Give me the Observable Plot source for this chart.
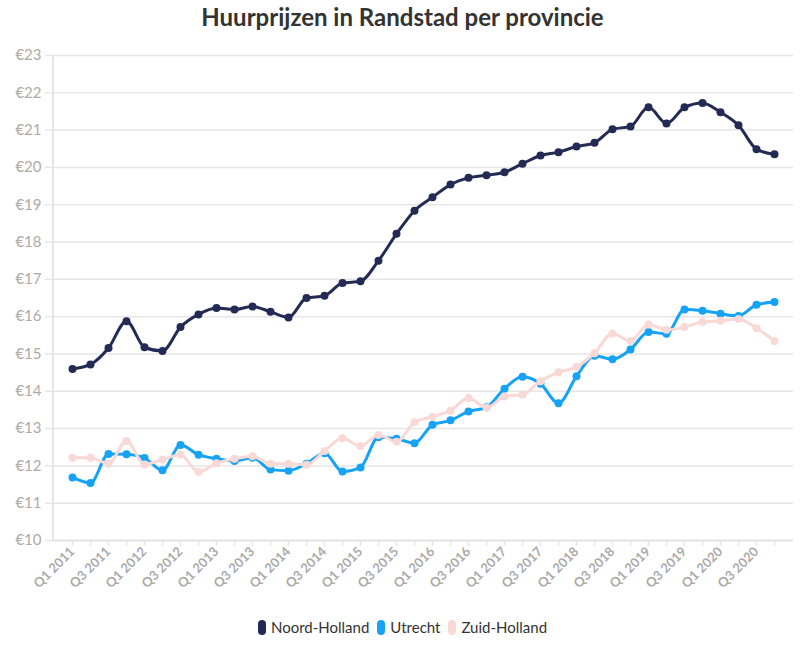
<!DOCTYPE html>
<html>
<head>
<meta charset="utf-8">
<script src="https://cdn.jsdelivr.net/npm/d3@7"></script>
<script src="https://cdn.jsdelivr.net/npm/@observablehq/plot@0.6"></script>
<style>
  body { margin: 0; background: #fff; font-family: Lato, "Noto Sans", sans-serif; }
  #title { height: 35px; line-height: 33px; text-align: center; font-size: 24px; font-weight: bold; color: #333; }
  #legend { display: flex; justify-content: center; align-items: center; gap: 8px; font-size: 15px; color: #333; margin-top: 13px; }
  .item { display: flex; align-items: center; gap: 5px; }
  .sw { width: 8px; height: 15px; border-radius: 4px; display: inline-block; }
</style>
</head>
<body>
<div id="title">Huurprijzen in Randstad per provincie</div>
<div id="chart"></div>
<div id="legend"></div>
<script>
const quarters = [
  "Q1 2011","Q2 2011","Q3 2011","Q4 2011",
  "Q1 2012","Q2 2012","Q3 2012","Q4 2012",
  "Q1 2013","Q2 2013","Q3 2013","Q4 2013",
  "Q1 2014","Q2 2014","Q3 2014","Q4 2014",
  "Q1 2015","Q2 2015","Q3 2015","Q4 2015",
  "Q1 2016","Q2 2016","Q3 2016","Q4 2016",
  "Q1 2017","Q2 2017","Q3 2017","Q4 2017",
  "Q1 2018","Q2 2018","Q3 2018","Q4 2018",
  "Q1 2019","Q2 2019","Q3 2019","Q4 2019",
  "Q1 2020","Q2 2020","Q3 2020","Q4 2020"
];
const noordHolland = [
  14.60, 14.72, 15.16, 15.88, 15.18, 15.08, 15.72, 16.06,
  16.23, 16.19, 16.27, 16.13, 15.98, 16.50, 16.56, 16.90,
  16.95, 17.50, 18.22, 18.84, 19.20, 19.54, 19.72, 19.79,
  19.87, 20.10, 20.32, 20.41, 20.56, 20.66, 21.02, 21.10,
  21.61, 21.18, 21.61, 21.73, 21.48, 21.13, 20.49, 20.35
];
const utrecht = [
  11.69, 11.54, 12.32, 12.31, 12.21, 11.88, 12.56, 12.30,
  12.19, 12.13, 12.22, 11.90, 11.87, 12.06, 12.34, 11.85,
  11.96, 12.77, 12.73, 12.61, 13.10, 13.22, 13.46, 13.57,
  14.07, 14.39, 14.20, 13.68, 14.40, 14.95, 14.86, 15.12,
  15.59, 15.54, 16.19, 16.16, 16.08, 16.02, 16.32, 16.39
];
const zuidHolland = [
  12.22, 12.22, 12.06, 12.67, 12.04, 12.17, 12.30, 11.84,
  12.07, 12.19, 12.26, 12.06, 12.06, 12.03, 12.40, 12.74,
  12.53, 12.83, 12.65, 13.17, 13.32, 13.48, 13.82, 13.56,
  13.86, 13.91, 14.27, 14.51, 14.65, 15.02, 15.55, 15.35,
  15.79, 15.65, 15.72, 15.86, 15.89, 15.94, 15.69, 15.35
];
const seriesNames = ["Noord-Holland", "Utrecht", "Zuid-Holland"];
const seriesColors = ["#232b55", "#17a3f5", "#f9d9d6"];
const yTicks = [10, 11, 12, 13, 14, 15, 16, 17, 18, 19, 20, 21, 22, 23];

const allSeries = [noordHolland, utrecht, zuidHolland];
const data = [];
allSeries.forEach((vals, s) => {
  vals.forEach((v, i) => data.push({ q: quarters[i], v, s: seriesNames[s] }));
});

const marks = [
  Plot.gridY(yTicks, { stroke: "#e6e6e6", strokeOpacity: 1, strokeWidth: 1.5 }),
  Plot.ruleY([10], { stroke: "#e6e6e6", strokeWidth: 2 }),
  Plot.axisY(yTicks, {
    tickSize: 8, tickPadding: 4, stroke: "#e6e6e6", strokeWidth: 1.5,
    tickFormat: d => "€" + d, fill: "#b0aaa6", fontSize: 15, label: null
  }),
  Plot.axisX(quarters, {
    tickSize: 6, stroke: "#e6e6e6", strokeWidth: 1.5, tickRotate: -45, tickPadding: 3,
    tickFormat: (d) => (quarters.indexOf(d) % 2 === 0 ? d : ""),
    fill: "#aaaaaa", fontSize: 13, fontWeight: "bold", label: null
  })
];
seriesNames.forEach((name, k) => {
  const d = data.filter(r => r.s === name);
  marks.push(Plot.line(d, { x: "q", y: "v", stroke: seriesColors[k], strokeWidth: 3, curve: "monotone-x" }));
  marks.push(Plot.dot(d, { x: "q", y: "v", fill: seriesColors[k], r: 4 }));
});

const chart = Plot.plot({
  width: 805,
  height: 570,
  marginTop: 20,
  marginBottom: 65,
  marginLeft: 53,
  marginRight: 12,
  style: { fontFamily: "Lato, 'Noto Sans', sans-serif", background: "#fff" },
  x: { type: "point", domain: quarters, padding: 0.5 },
  y: { domain: [10, 23] },
  marks
});
document.getElementById("chart").appendChild(chart);
d3.select(chart).insert("line", ":first-child")
  .attr("x1", 53).attr("x2", 53).attr("y1", 20).attr("y2", 505)
  .attr("stroke", "#e6e6e6").attr("stroke-width", 2);

const legend = document.getElementById("legend");
seriesNames.forEach((n, i) => {
  const it = document.createElement("span");
  it.className = "item";
  it.innerHTML = `<span class="sw" style="background:${seriesColors[i]}"></span>${n}`;
  legend.appendChild(it);
});
</script>
</body>
</html>
